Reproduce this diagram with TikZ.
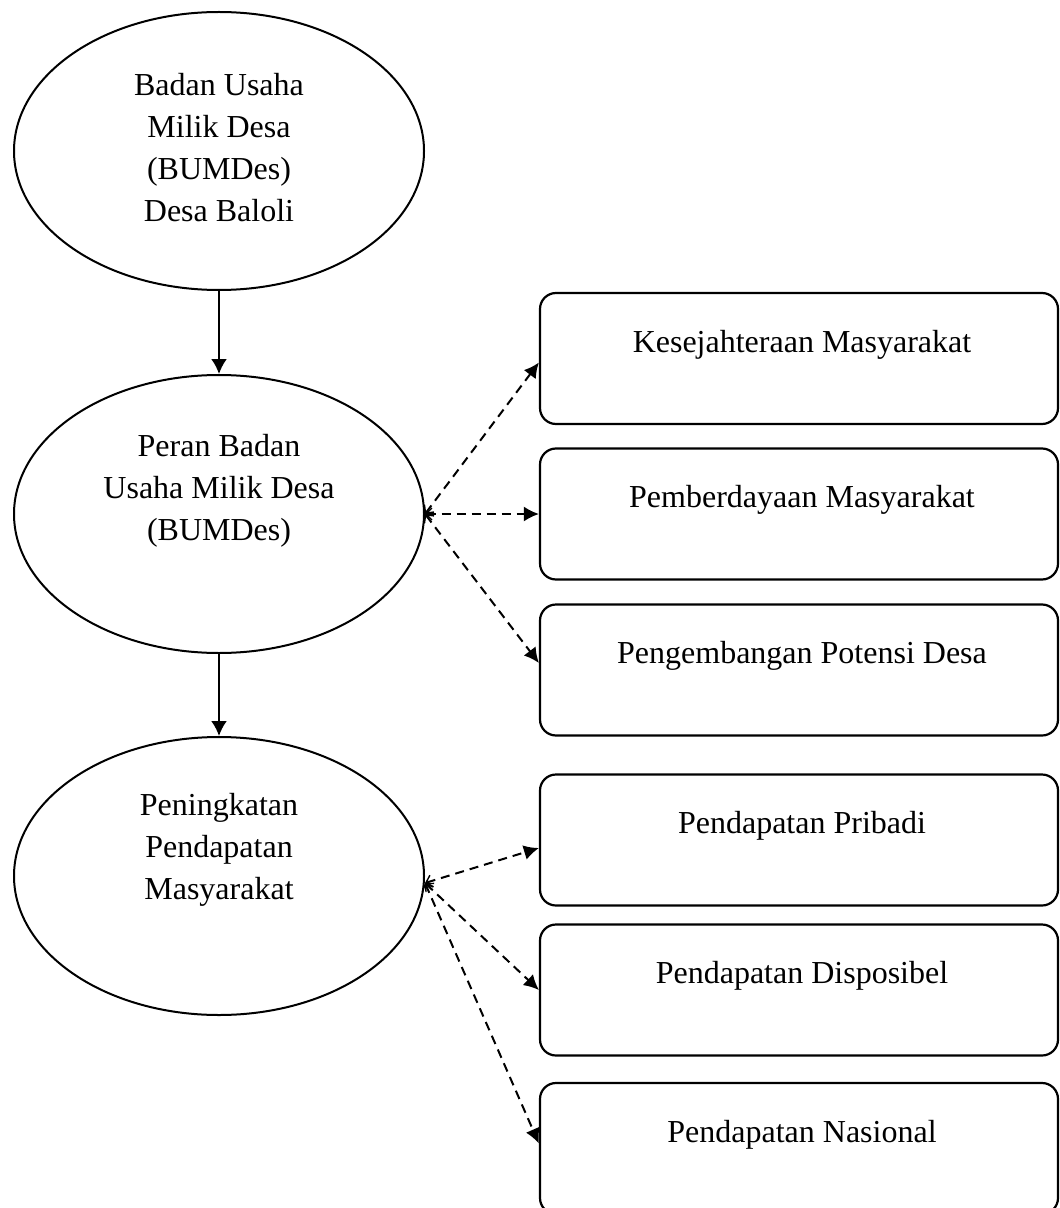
\documentclass[tikz,border=0pt]{standalone}
\usepackage{fontspec}
\setmainfont{Liberation Serif}
\usetikzlibrary{shapes.geometric,arrows.meta,positioning,calc}
\begin{document}
\begin{tikzpicture}[x=0.5pt,y=-0.5pt,
  oval/.style={draw,ellipse,line width=1pt,minimum width=205pt,minimum height=139pt,inner sep=0pt},
  rbox/.style={draw,rectangle,rounded corners=8pt,line width=1.1pt,minimum width=259pt,minimum height=65.5pt,inner sep=0pt},
  txt/.style={font=\fontsize{16pt}{21pt}\selectfont,align=center,inner sep=0pt},
  solidarrow/.style={line width=1.1pt,-{Latex[length=7.5pt,width=8pt]}},
  dasharrow/.style={line width=1pt,dash pattern=on 4.5pt off 3pt,{Straight Barb[length=3pt,width=6pt,line width=0.7pt]}-{Latex[length=7.5pt,width=7.5pt]}}]
\useasboundingbox (0,0) rectangle (1059,1208);
% ellipses
\node[oval] (e1) at (219,151) {};
\node[oval] (e2) at (219,514) {};
\node[oval] (e3) at (219,876) {};
\node[txt] (t1) at (219,148) {Badan Usaha\\Milik Desa\\(BUMDes)\\Desa Baloli};
\node[txt] (t2) at (219,491) {Peran Badan\\Usaha Milik Desa\\(BUMDes)};
\node[txt] (t3) at (219,850) {Peningkatan\\Pendapatan\\Masyarakat};
% boxes
\node[rbox] (b1) at (799,358.5) {};
\node[rbox] (b2) at (799,514) {};
\node[rbox] (b3) at (799,670) {};
\node[rbox] (b4) at (799,840) {};
\node[rbox] (b5) at (799,990) {};
\node[rbox] (b6) at (799,1148.5) {};
\node[txt] (l1) at (802,345) {Kesejahteraan Masyarakat};
\node[txt] (l2) at (802,500) {Pemberdayaan Masyarakat};
\node[txt] (l3) at (802,656) {Pengembangan Potensi Desa};
\node[txt] (l4) at (802,826) {Pendapatan Pribadi};
\node[txt] (l5) at (802,976) {Pendapatan Disposibel};
\node[txt] (l6) at (802,1135) {Pendapatan Nasional};
% solid arrows
\draw[solidarrow] (e1.south) -- (e2.north);
\draw[solidarrow] (e2.south) -- (e3.north);
% dashed arrows
\coordinate (o2) at (e2.east);
\coordinate (o3) at ($(e3.east)+(0,7)$);
\draw[dasharrow] (o2) -- ($(b1.west)+(0,4)$);
\draw[dasharrow] (o2) -- (b2.west);
\draw[dasharrow] (o2) -- ($(b3.west)+(0,-7)$);
\draw[dasharrow] (o3) -- ($(b4.west)+(0,8)$);
\draw[dasharrow] (o3) -- (b5.west);
\draw[dasharrow] (o3) -- ($(b6.west)+(0,-5)$);
\end{tikzpicture}
\end{document}
